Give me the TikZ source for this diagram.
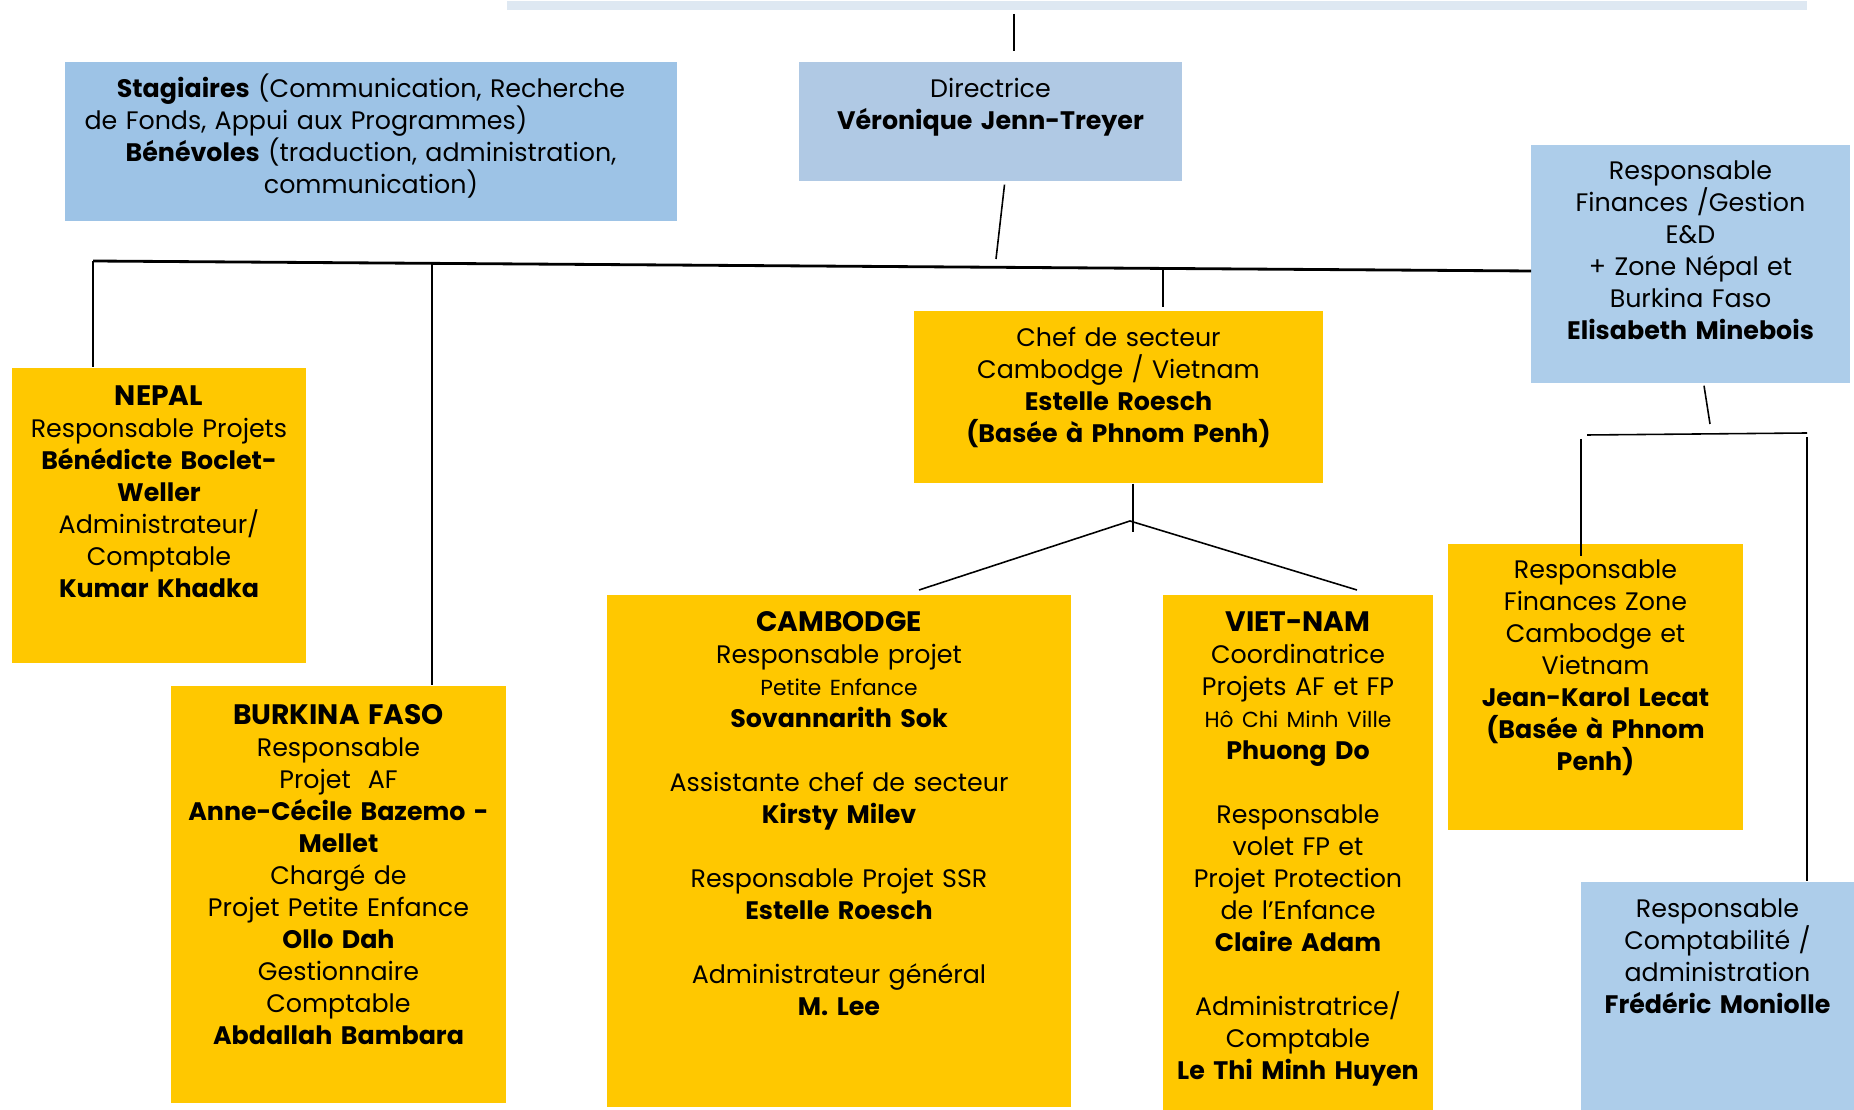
\documentclass[tikz,border=0pt]{standalone}
\usepackage{fontspec}
\setmainfont{Poppins}
\definecolor{jaune}{RGB}{255,200,0}
\definecolor{bleustag}{RGB}{157,195,230}
\definecolor{bleudir}{RGB}{176,201,228}
\definecolor{bleufin}{RGB}{173,205,234}
\definecolor{barre}{RGB}{222,232,242}
\newcommand{\petit}{\fontsize{6.2}{9.1}\selectfont}
\newcommand{\pays}[1]{{\fontsize{8}{9.1}\selectfont\textbf{#1}}}
\tikzset{
  boite/.style={inner sep=0pt, align=center, anchor=north, font=\fontsize{7.2}{9.1}\selectfont},
  bjaune/.style={boite, fill=jaune},
  bbleu/.style={boite, fill=#1},
  bus/.style={line width=.8pt}
}
\begin{document}
\begin{tikzpicture}[x=0.01cm,y=-0.01cm,line width=.45pt]
\useasboundingbox (0,0) rectangle (1854,1110);
\node[fill=barre, minimum width=13cm, minimum height=.095cm, inner sep=0pt, anchor=north] (bandeau) at (1157,0) {};
\node[bbleu=bleustag, text width=6.12cm, text height=.355cm, text depth=1.235cm] (stag) at (371,61)
  {\textbf{Stagiaires} (Communication, Recherche\\ de Fonds, Appui aux Programmes)\rule{1.3cm}{0pt}\\ \textbf{Bénévoles} (traduction, administration,\\ communication)};
\node[bbleu=bleudir, text width=3.83cm, text height=.355cm, text depth=.835cm] (dir) at (990.5,61)
  {Directrice\\ \textbf{Véronique Jenn-Treyer}};
\node[bbleu=bleufin, text width=3.19cm, text height=.35cm, text depth=2.03cm] (fin) at (1690.5,144)
  {Responsable\\ Finances /Gestion\\ E\&D\\ + Zone Népal et\\ Burkina Faso\\ \textbf{Elisabeth Minebois}};
\node[bjaune, text width=4.09cm, text height=.36cm, text depth=1.36cm] (chef) at (1118.5,310)
  {Chef de secteur\\ Cambodge / Vietnam\\ \textbf{Estelle Roesch}\\ \textbf{(Basée à Phnom Penh)}};
\node[bjaune, text width=2.94cm, text height=.38cm, text depth=2.57cm] (nepal) at (159,367)
  {\pays{NEPAL}\\ Responsable Projets\\ \textbf{Bénédicte Boclet-}\\ \textbf{Weller}\\ Administrateur/\\ Comptable\\ \textbf{Kumar Khadka}};
\node[bjaune, text width=3.35cm, text height=.39cm, text depth=3.78cm] (burk) at (338.5,685)
  {\pays{BURKINA FASO}\\ Responsable\\ Projet~~AF\\ \textbf{Anne-Cécile Bazemo -}\\ \textbf{Mellet}\\ Chargé de\\ Projet Petite Enfance\\ \textbf{Ollo Dah}\\ Gestionnaire\\ Comptable\\ \textbf{Abdallah Bambara}};
\node[bjaune, text width=4.64cm, text height=.37cm, text depth=4.75cm] (camb) at (839,594)
  {\pays{CAMBODGE}\\ Responsable projet\\ {\petit Petite Enfance}\\ \textbf{Sovannarith Sok}\\[9.1pt]
   Assistante chef de secteur\\ \textbf{Kirsty Milev}\\[9.1pt]
   Responsable Projet SSR\\ \textbf{Estelle Roesch}\\[9.1pt]
   Administrateur général\\ \textbf{M. Lee}};
\node[bjaune, text width=2.70cm, text height=.37cm, text depth=4.79cm] (viet) at (1298,594)
  {\pays{VIET-NAM}\\ Coordinatrice\\ Projets AF et FP\\ {\petit Hô Chi Minh Ville}\\ \textbf{Phuong Do}\\[9.1pt]
   Responsable\\ volet FP et\\ Projet Protection\\ de l’Enfance\\ \textbf{Claire Adam}\\[9.1pt]
   Administratrice/\\ Comptable\\ \textbf{Le Thi Minh Huyen}};
\node[bjaune, text width=2.95cm, text height=.35cm, text depth=2.51cm] (jk) at (1595.5,543)
  {Responsable\\ Finances Zone\\ Cambodge et\\ Vietnam\\ \textbf{Jean-Karol Lecat}\\ \textbf{(Basée à Phnom}\\ \textbf{Penh)}};
\node[bbleu=bleufin, text width=2.73cm, text height=.36cm, text depth=1.93cm] (fred) at (1717.5,881)
  {Responsable\\ Comptabilité /\\ administration\\ \textbf{Frédéric Moniolle}};
\coordinate (d0) at (1014,14);
\coordinate (d1) at (996,259);
\coordinate (b1) at (93,261);
\coordinate (b2) at (1531,271);
\coordinate (b3) at (432,263);
\coordinate (b4) at (1163,270);
\coordinate (c1) at (1133,532);
\coordinate (c2) at (1130,521);
\coordinate (c3) at (919,590);
\coordinate (c4) at (1357,590);
\coordinate (f1) at (1710,424);
\coordinate (r1) at (1587,435);
\coordinate (r2) at (1807,433);
\coordinate (r3) at (1581,439);
\coordinate (r4) at (1807,437);
\draw[bus] (b1) -- (b2);
\draw[shorten >=.1cm] (d0) -- (d0 |- dir.north);
\draw ([xshift=.14cm,yshift=-.03cm]dir.south) -- (d1);
\draw (b1) -- (b1 |- nepal.north);
\draw (b3) -- (b3 |- burk.north);
\draw[shorten >=.03cm] (b4) -- (b4 |- chef.north);
\draw (c1 |- chef.south) -- (c1);
\draw (c3) -- (c2) -- (c4);
\draw ([xshift=.135cm,yshift=-.02cm]fin.south) -- (f1);
\draw (r1) -- (r2);
\draw[shorten >=-.13cm] (r3) -- (r3 |- jk.north);
\draw (r4) -- (r4 |- fred.north);
\end{tikzpicture}
\end{document}
